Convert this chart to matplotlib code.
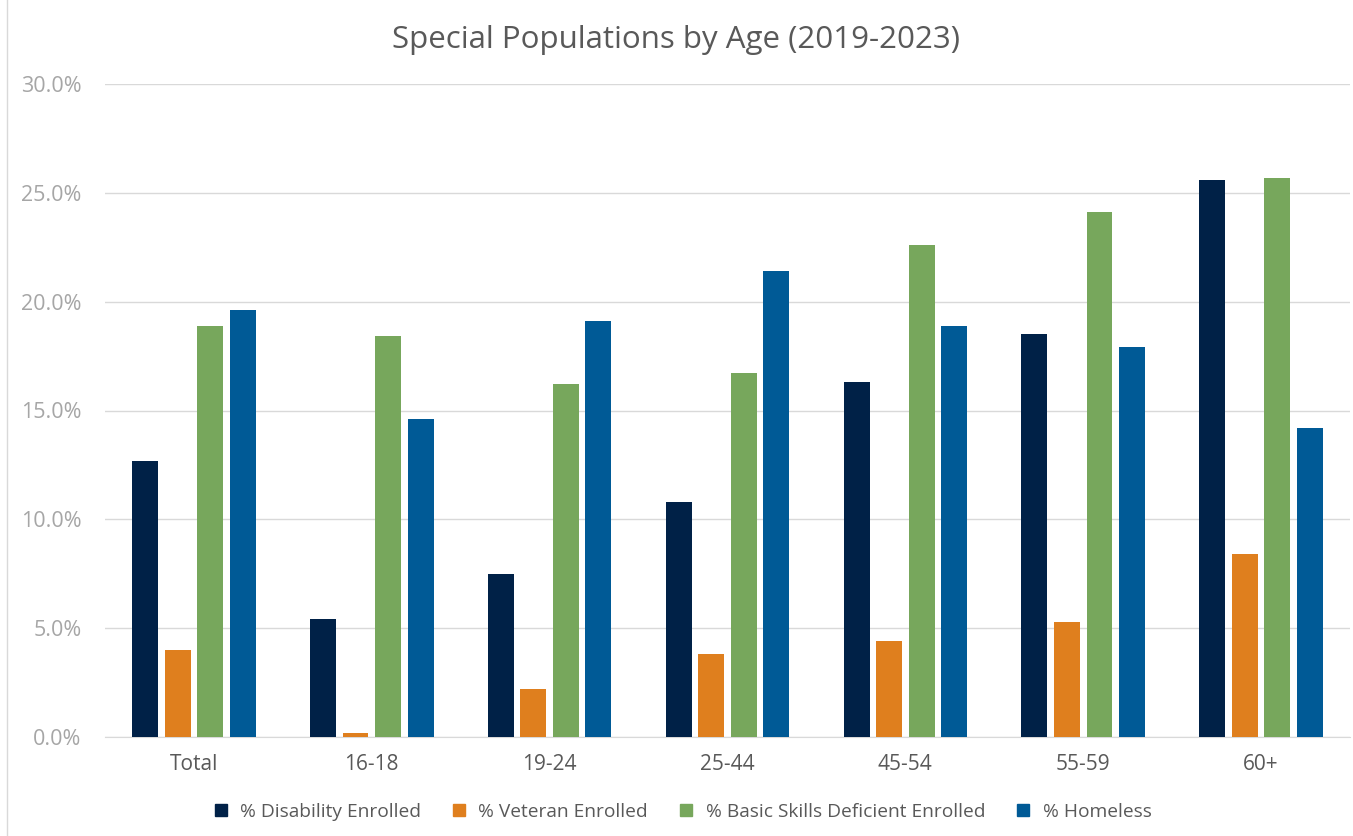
import matplotlib.pyplot as plt
import numpy as np
from matplotlib.lines import Line2D
from matplotlib.ticker import FuncFormatter

categories = ["Total", "16-18", "19-24", "25-44", "45-54", "55-59", "60+"]
disability = [12.7, 5.4, 7.5, 10.8, 16.3, 18.5, 25.6]
veteran = [4.0, 0.2, 2.2, 3.8, 4.4, 5.3, 8.4]
basic_skills = [18.9, 18.4, 16.2, 16.7, 22.6, 24.1, 25.7]
homeless = [19.6, 14.6, 19.1, 21.4, 18.9, 17.9, 14.2]

series = [
    ("% Disability Enrolled", disability, "#002147"),
    ("% Veteran Enrolled", veteran, "#DF7F1E"),
    ("% Basic Skills Deficient Enrolled", basic_skills, "#77A75C"),
    ("% Homeless", homeless, "#005A96"),
]

plt.rcParams['font.family'] = ['Open Sans', 'DejaVu Sans']

fig = plt.figure(figsize=(13.53, 8.36), dpi=100)
ax = fig.add_axes([105 / 1353, (836 - 737) / 836, 1245 / 1353, 653 / 836])

x = np.arange(len(categories))
slot = 0.183
width = 0.146
for i, (name, vals, color) in enumerate(series):
    ax.bar(x + (i - 1.5) * slot, vals, width=width, color=color, zorder=3)

ax.set_xlim(-0.5, len(categories) - 0.5)
ax.set_ylim(0, 30)
ax.set_yticks(np.arange(0, 31, 5))
ax.yaxis.set_major_formatter(FuncFormatter(lambda v, p: f"{v:.1f}%"))
ax.grid(axis='y', color='#D9D9D9', linewidth=1, zorder=0)
for s in ['top', 'right', 'left']:
    ax.spines[s].set_visible(False)
ax.spines['bottom'].set_color('#D9D9D9')
ax.tick_params(axis='y', length=0, labelsize=15.5, labelcolor='#A6A6A6', pad=17)
ax.tick_params(axis='x', length=0, labelsize=15, labelcolor='#595959', pad=12)
ax.set_xticks(x)
ax.set_xticklabels(categories)

fig.text(0.5, 1 - 40 / 836, "Special Populations by Age (2019-2023)",
         ha='center', va='center', fontsize=22.5, color='#595959')

handles = [Line2D([], [], marker='s', linestyle='none', markersize=9,
                  color=c, label=n) for n, _, c in series]
fig.legend(handles=handles, loc='center', bbox_to_anchor=(0.5, 1 - 812 / 836),
           ncol=4, frameon=False, fontsize=13.8, labelcolor='#595959',
           handletextpad=0.0, columnspacing=1.0)

# thin border line on the left edge of the chart area
fig.add_artist(Line2D([7 / 1353, 7 / 1353], [0, 1], color='#D9D9D9',
                      linewidth=1, transform=fig.transFigure))

fig.savefig("out.png", dpi=100)
